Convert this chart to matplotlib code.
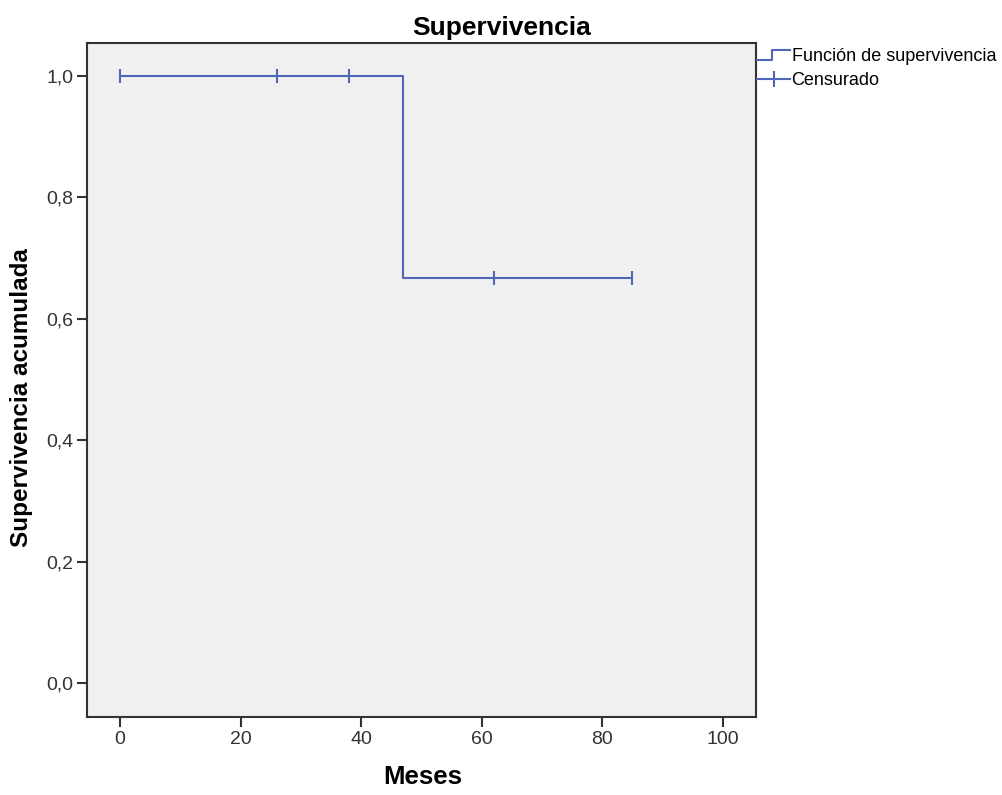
import matplotlib
matplotlib.use("Agg")
import matplotlib.pyplot as plt
from matplotlib.lines import Line2D
from matplotlib.legend_handler import HandlerBase

# Data
step_times = [0, 47, 85]
survival = [1.0, 0.6667, 0.6667]
censor_times = [0, 26, 38, 62, 85]
censor_surv = [1.0, 1.0, 1.0, 0.6667, 0.6667]
xticks = [0, 20, 40, 60, 80, 100]
yticks = [0.0, 0.2, 0.4, 0.6, 0.8, 1.0]
ytick_labels = ["0,0", "0,2", "0,4", "0,6", "0,8", "1,0"]

color = "#5266B8"
plt.rcParams['font.family'] = ['Liberation Sans', 'DejaVu Sans']

fig = plt.figure(figsize=(10.03, 7.95), dpi=100)
ax = fig.add_axes([0.0867, 0.0981, 0.667, 0.8478])
ax.set_facecolor("#F0F0F0")

ax.step(step_times, survival, where="post", color=color, lw=1.5)
ax.plot(censor_times, censor_surv, linestyle="none", marker="|", markersize=10,
        markeredgewidth=1.5, color=color)

ax.set_xlim(-5.5, 105.5)
ax.set_ylim(-0.056, 1.054)
ax.set_xticks(xticks)
ax.set_yticks(yticks)
ax.set_yticklabels(ytick_labels)
ax.tick_params(direction="out", length=7, width=1.5, labelsize=14, colors="#333333", pad=3)
for s in ax.spines.values():
    s.set_linewidth(1.5)
    s.set_color("#333333")

fig.text(0.4210, 1 - 777 / 795, "Meses", ha="center", va="center", fontsize=18.5, fontweight="bold")
fig.text(22 / 1003, 0.5, "Supervivencia acumulada", ha="center", va="center", rotation=90,
         fontsize=17.5, fontweight="bold")
fig.text(0.5, 1 - 28 / 795, "Supervivencia", ha="center", va="center", fontsize=19, fontweight="bold")


class StepHandler(HandlerBase):
    def create_artists(self, legend, orig_handle, xdescent, ydescent, width, height, fontsize, trans):
        xs = [-xdescent, -xdescent + width * 0.45, -xdescent + width * 0.45, -xdescent + width]
        y0 = -ydescent + height * 0.1
        y1 = -ydescent + height * 0.9
        ys = [y0, y0, y1, y1]
        l = Line2D(xs, ys, color=color, lw=1.5, transform=trans)
        return [l]


h1 = Line2D([], [], color=color)
h2 = Line2D([], [], color=color, lw=1.5, marker="|", markersize=12, markeredgewidth=1.5)
leg = fig.legend([h1, h2], ["Función de supervivencia", "Censurado"],
                 handler_map={h1: StepHandler()},
                 loc="upper left", bbox_to_anchor=(0.755, 1 - 48 / 795), frameon=False,
                 fontsize=13, handlelength=1.8, handletextpad=0.1, labelspacing=0.4,
                 borderaxespad=0, borderpad=0)

fig.savefig("out.png", dpi=100, facecolor="white")
